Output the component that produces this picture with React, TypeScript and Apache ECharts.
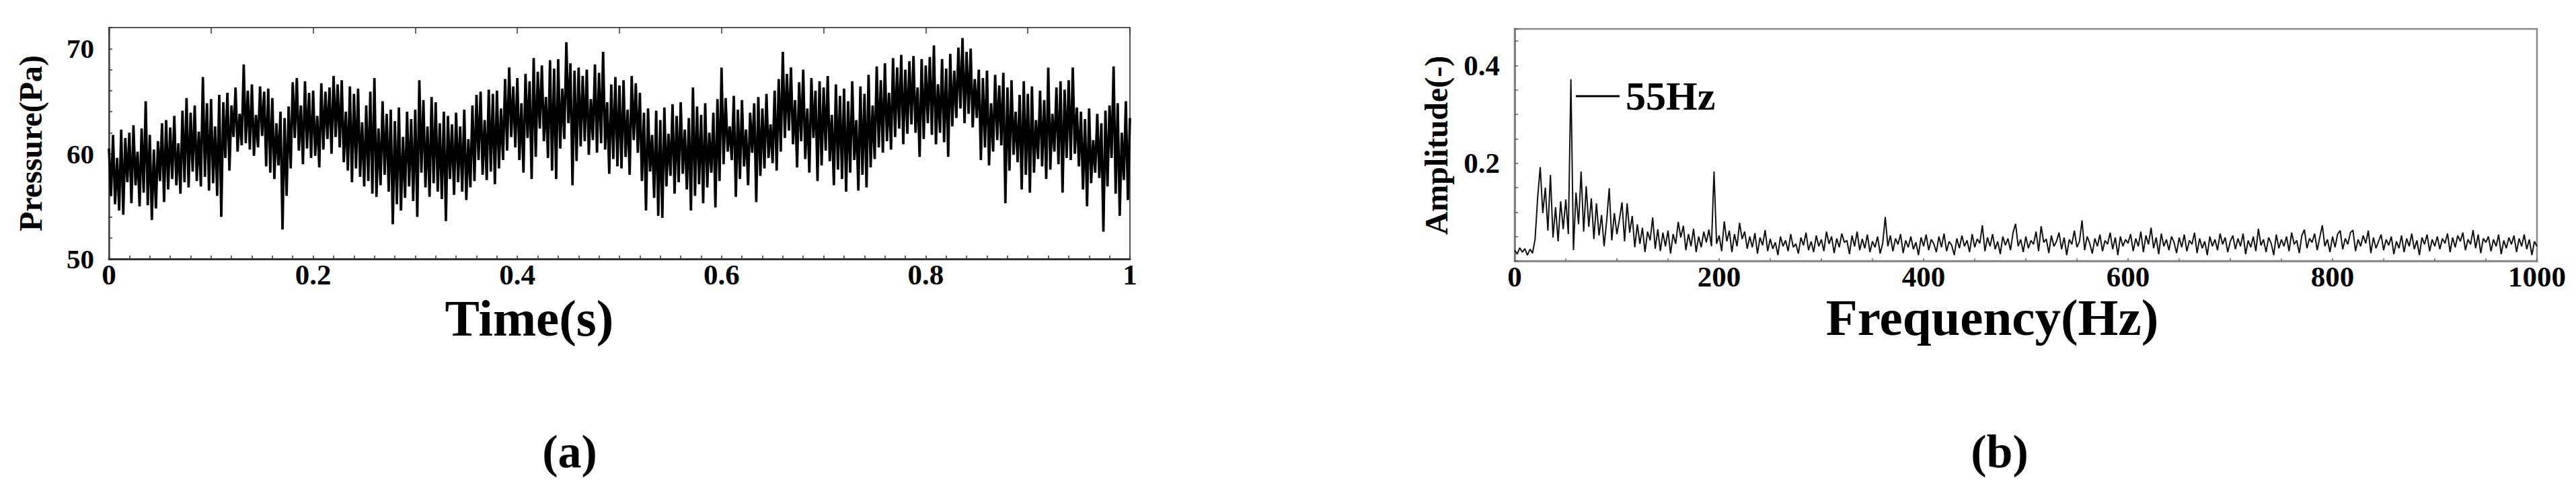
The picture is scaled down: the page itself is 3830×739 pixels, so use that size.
import React, { useEffect, useRef } from 'react';
import * as echarts from 'echarts';

// ---------- data ----------
// (a) pressure signal, sampled every TIME_STEP seconds from 0 to 1 s
const TIME_STEP = 0.002;
const pressurePa = [
  60.5, 56.0, 61.8, 55.2, 59.6, 54.6, 62.3, 54.2, 61.5, 57.3,
  62.0, 55.3, 62.7, 57.0, 60.2, 55.0, 62.4, 56.3, 65.0, 55.1,
  61.8, 53.7, 60.4, 54.8, 61.2, 57.4, 62.9, 55.4, 63.2, 56.6,
  62.5, 57.6, 63.6, 57.0, 61.0, 56.2, 64.1, 57.3, 65.3, 56.8,
  63.9, 58.3, 64.6, 57.4, 62.1, 56.9, 67.3, 57.8, 64.8, 56.5,
  65.2, 57.2, 62.6, 56.0, 65.6, 54.0, 64.9, 59.6, 65.8, 58.4,
  64.6, 61.6, 66.3, 60.2, 63.8, 60.8, 68.5, 61.0, 66.0, 60.4,
  66.6, 59.8, 63.7, 60.6, 66.4, 61.7, 65.9, 58.8, 66.2, 58.2,
  65.3, 57.6, 62.9, 58.9, 64.0, 52.8, 63.4, 56.0, 64.5, 58.6,
  66.8, 61.5, 67.2, 60.3, 64.6, 59.0, 66.9, 60.5, 65.8, 59.6,
  66.0, 59.8, 63.6, 58.7, 66.7, 60.4, 65.9, 61.4, 66.3, 60.0,
  67.4, 61.6, 66.6, 60.6, 67.0, 59.2, 64.0, 58.4, 66.4, 57.3,
  65.7, 58.6, 66.2, 57.8, 63.0, 56.9, 64.6, 57.4, 65.9, 56.2,
  67.2, 55.9, 62.4, 57.0, 65.0, 58.0, 63.8, 56.4, 64.2, 53.3,
  63.1, 55.2, 64.4, 54.6, 61.6, 55.8, 64.0, 56.9, 63.3, 55.5,
  64.2, 54.0, 67.0, 58.2, 65.1, 56.8, 62.6, 55.9, 65.4, 57.2,
  64.9, 56.4, 62.9, 55.7, 64.0, 53.6, 63.6, 57.6, 62.8, 56.1,
  63.9, 57.3, 62.6, 56.4, 64.2, 55.6, 61.4, 56.8, 64.6, 57.4,
  65.6, 59.4, 65.9, 58.0, 63.2, 57.5, 66.1, 58.3, 65.7, 57.1,
  66.0, 58.6, 64.3, 59.4, 67.1, 60.3, 68.2, 61.6, 66.4, 60.6,
  67.2, 59.4, 64.8, 58.2, 67.6, 61.5, 66.9, 57.6, 69.1, 59.7,
  67.8, 62.4, 68.4, 61.2, 65.4, 59.6, 68.9, 58.4, 68.1, 57.6,
  69.0, 60.5, 66.2, 61.4, 70.6, 62.9, 68.6, 57.0, 67.9, 59.3,
  68.2, 60.7, 67.4, 61.2, 68.0, 59.9, 65.2, 61.3, 68.5, 60.1,
  67.7, 61.0, 69.7, 60.4, 64.9, 58.1, 66.6, 59.5, 67.3, 58.8,
  66.5, 58.6, 67.0, 59.7, 64.2, 58.0, 67.4, 61.3, 66.7, 60.1,
  65.8, 57.4, 63.9, 54.6, 64.3, 58.3, 61.8, 55.8, 64.1, 54.1,
  63.2, 53.9, 64.4, 56.9, 61.9, 57.9, 64.7, 56.2, 63.6, 57.3,
  64.9, 58.1, 62.3, 56.6, 63.4, 54.6, 66.3, 56.0, 64.5, 57.1,
  63.7, 55.3, 64.8, 56.8, 62.0, 58.2, 63.9, 54.9, 65.2, 57.4,
  68.2, 59.0, 65.3, 60.2, 62.6, 59.4, 65.5, 55.9, 64.2, 57.6,
  65.1, 58.8, 62.3, 57.0, 63.9, 60.1, 64.8, 55.4, 65.4, 57.9,
  64.3, 58.6, 65.7, 59.6, 62.8, 59.1, 66.0, 58.4, 67.1, 60.2,
  69.7, 61.5, 67.6, 62.2, 68.2, 60.9, 65.1, 58.7, 66.8, 61.2,
  68.0, 59.5, 64.3, 58.2, 67.2, 61.5, 66.0, 57.4, 66.9, 58.9,
  66.3, 60.3, 67.4, 59.3, 63.7, 57.0, 66.6, 58.5, 65.5, 57.6,
  66.2, 56.4, 65.0, 58.2, 66.9, 59.4, 63.2, 56.5, 66.4, 58.0,
  65.7, 56.8, 67.5, 58.7, 64.6, 59.5, 68.3, 60.6, 67.0, 60.1,
  68.6, 61.2, 65.8, 60.4, 69.1, 61.6, 68.2, 62.4, 69.4, 60.9,
  68.0, 61.9, 68.8, 62.8, 69.3, 62.0, 66.3, 59.7, 69.0, 61.4,
  68.4, 62.9, 69.2, 61.8, 70.3, 60.9, 66.6, 62.0, 69.0, 61.1,
  68.1, 59.7, 69.5, 62.6, 67.9, 63.4, 70.1, 64.3, 71.0, 62.9,
  69.7, 63.8, 70.0, 62.5, 67.1, 63.4, 68.0, 59.4, 67.2, 60.6,
  67.9, 58.9, 64.8, 60.2, 67.5, 61.3, 66.5, 60.8, 67.7, 55.3,
  66.3, 58.4, 67.0, 59.9, 64.0, 59.2, 65.6, 56.6, 66.9, 58.0,
  65.7, 56.3, 66.4, 58.2, 63.2, 59.5, 66.0, 58.8, 65.1, 57.6,
  68.2, 58.5, 63.8, 60.2, 66.3, 59.0, 66.9, 56.3, 66.1, 59.6,
  67.0, 59.4, 68.2, 60.0, 64.4, 58.8, 64.0, 56.6, 63.3, 55.0,
  64.3, 57.2, 61.3, 58.2, 63.8, 57.7, 62.9, 52.6, 64.1, 56.9,
  64.6, 59.6, 68.3, 56.2, 64.8, 54.1, 62.0, 57.5, 65.0, 55.6,
  63.4,
];

// (b) amplitude spectrum, every FREQ_STEP Hz from 0 to 1000 Hz
const FREQ_STEP = 2.5;
const amplitude = [
  0.022, 0.014, 0.027, 0.018, 0.025, 0.012, 0.024, 0.016, 0.045, 0.130, 0.192, 0.098, 0.150, 0.062, 0.176, 0.048, 0.110, 0.040, 0.122, 0.065,
  0.126, 0.055, 0.372, 0.022, 0.140, 0.075, 0.183, 0.060, 0.153, 0.070, 0.128, 0.045, 0.118, 0.052, 0.094, 0.030, 0.082, 0.149, 0.042, 0.098,
  0.055, 0.085, 0.120, 0.040, 0.118, 0.058, 0.092, 0.028, 0.075, 0.035, 0.068, 0.018, 0.060, 0.042, 0.089, 0.025, 0.065, 0.020, 0.058, 0.030,
  0.062, 0.015, 0.055, 0.035, 0.080, 0.048, 0.072, 0.022, 0.055, 0.030, 0.066, 0.018, 0.050, 0.028, 0.060, 0.038, 0.064, 0.030, 0.183, 0.035,
  0.052, 0.020, 0.081, 0.040, 0.062, 0.018, 0.055, 0.030, 0.078, 0.045, 0.060, 0.025, 0.050, 0.028, 0.057, 0.015, 0.048, 0.032, 0.063, 0.020,
  0.045, 0.025, 0.038, 0.012, 0.050, 0.030, 0.042, 0.020, 0.055, 0.028, 0.035, 0.015, 0.048, 0.032, 0.058, 0.022, 0.040, 0.018, 0.052, 0.030,
  0.044, 0.020, 0.060, 0.035, 0.050, 0.016, 0.046, 0.028, 0.056, 0.038, 0.042, 0.014, 0.052, 0.030, 0.060, 0.022, 0.045, 0.026, 0.054, 0.018,
  0.040, 0.028, 0.050, 0.015, 0.036, 0.090, 0.030, 0.052, 0.020, 0.046, 0.034, 0.055, 0.016, 0.042, 0.028, 0.050, 0.024, 0.038, 0.012, 0.048,
  0.030, 0.054, 0.022, 0.044, 0.035, 0.018, 0.050, 0.028, 0.056, 0.020, 0.040, 0.032, 0.012, 0.046, 0.026, 0.052, 0.030, 0.042, 0.018, 0.055,
  0.028, 0.045, 0.036, 0.073, 0.020, 0.048, 0.030, 0.055, 0.024, 0.040, 0.014, 0.050, 0.032, 0.046, 0.022, 0.058, 0.076, 0.030, 0.044, 0.018,
  0.050, 0.026, 0.042, 0.034, 0.060, 0.020, 0.071, 0.038, 0.045, 0.016, 0.052, 0.030, 0.040, 0.058, 0.024, 0.048, 0.012, 0.044, 0.034, 0.062,
  0.028, 0.040, 0.083, 0.022, 0.050, 0.036, 0.015, 0.046, 0.030, 0.054, 0.020, 0.042, 0.034, 0.058, 0.024, 0.048, 0.012, 0.050, 0.030, 0.044,
  0.036, 0.055, 0.020, 0.046, 0.030, 0.060, 0.018, 0.052, 0.034, 0.068, 0.026, 0.048, 0.014, 0.056, 0.030, 0.044, 0.022, 0.050, 0.038, 0.016,
  0.048, 0.028, 0.054, 0.020, 0.042, 0.034, 0.058, 0.016, 0.046, 0.026, 0.040, 0.012, 0.050, 0.030, 0.044, 0.022, 0.056, 0.034, 0.048, 0.018,
  0.040, 0.052, 0.024, 0.046, 0.030, 0.056, 0.014, 0.042, 0.028, 0.050, 0.020, 0.066, 0.032, 0.044, 0.018, 0.048, 0.036, 0.012, 0.054, 0.026,
  0.044, 0.030, 0.050, 0.020, 0.058, 0.034, 0.042, 0.016, 0.052, 0.064, 0.026, 0.046, 0.038, 0.056, 0.022, 0.048, 0.073, 0.030, 0.044, 0.018,
  0.050, 0.028, 0.055, 0.062, 0.024, 0.046, 0.034, 0.058, 0.063, 0.020, 0.044, 0.030, 0.052, 0.036, 0.062, 0.016, 0.048, 0.026, 0.040, 0.054,
  0.022, 0.044, 0.032, 0.050, 0.014, 0.040, 0.026, 0.052, 0.018, 0.046, 0.030, 0.056, 0.024, 0.042, 0.012, 0.048, 0.034, 0.054, 0.020, 0.044,
  0.030, 0.050, 0.024, 0.046, 0.036, 0.056, 0.018, 0.048, 0.028, 0.052, 0.040, 0.058, 0.022, 0.044, 0.034, 0.063, 0.026, 0.054, 0.016, 0.046,
  0.038, 0.050, 0.020, 0.044, 0.030, 0.054, 0.014, 0.042, 0.026, 0.048, 0.034, 0.052, 0.018, 0.046, 0.030, 0.054, 0.024, 0.044, 0.012, 0.040,
  0.030,
];

// tick labels
const TIME_TICKS = [0, 0.2, 0.4, 0.6, 0.8, 1];
const TIME_LABELS = ['0', '0.2', '0.4', '0.6', '0.8', '1'];
const PRESSURE_TICKS = [50, 60, 70];
const PRESSURE_LABELS = ['50', '60', '70'];
const FREQ_TICKS = [0, 200, 400, 600, 800, 1000];
const FREQ_LABELS = ['0', '200', '400', '600', '800', '1000'];
const AMP_TICKS = [0.2, 0.4];
const AMP_LABELS = ['0.2', '0.4'];

const PEAK_LABEL = '55Hz';

const FONT = "'Liberation Serif', 'Times New Roman', serif";

function labelFor(ticks: number[], labels: string[]) {
  return (v: number) => {
    const i = ticks.findIndex((t) => Math.abs(t - v) < 1e-6);
    return i >= 0 ? labels[i] : '';
  };
}

export default function App() {
  const ref = useRef<HTMLDivElement>(null);

  useEffect(() => {
    document.body.style.margin = '0';
    if (!ref.current) return;
    const chart = echarts.init(ref.current, null, { renderer: 'svg' });

    const pressureData = pressurePa.map((v, i) => [i * TIME_STEP, v]);
    const spectrumData = amplitude.map((v, i) => [i * FREQ_STEP, v]);

    const tickLabel = {
      color: '#000',
      fontFamily: FONT,
      fontWeight: 'bold' as const,
      fontSize: 43,
    };

    const option: any = {
      animation: false,
      grid: [
        { left: 162, top: 41, width: 1518, height: 344, show: true, borderColor: '#555', borderWidth: 2, backgroundColor: 'transparent' },
        { left: 2252, top: 43, width: 1520, height: 345, show: true, borderColor: '#8a8a8a', borderWidth: 2.5, backgroundColor: 'transparent' },
      ],
      xAxis: [
        {
          type: 'value', gridIndex: 0, min: 0, max: 1, interval: 0.02,
          axisLine: { show: true, onZero: false, lineStyle: { color: '#333', width: 3 } },
          axisTick: { show: true, inside: true, length: 5, lineStyle: { color: '#333', width: 1.5 } },
          axisLabel: { ...tickLabel, margin: 2, formatter: labelFor(TIME_TICKS, TIME_LABELS) },
          splitLine: { show: false },
        },
        {
          type: 'value', gridIndex: 0, min: 0, max: 1, interval: 0.1,
          axisLine: { show: false },
          axisTick: { show: true, inside: true, length: 9, lineStyle: { color: '#333', width: 1.5 } },
          axisLabel: { show: false },
          splitLine: { show: false },
        },
        {
          type: 'value', gridIndex: 1, min: 0, max: 1000, interval: 50,
          axisLine: { show: true, onZero: false, lineStyle: { color: '#8a8a8a', width: 3 } },
          axisTick: { show: true, inside: true, length: 4, lineStyle: { color: '#666', width: 1.5 } },
          axisLabel: { ...tickLabel, margin: 2, formatter: labelFor(FREQ_TICKS, FREQ_LABELS) },
          splitLine: { show: false },
        },
      ],
      yAxis: [
        {
          type: 'value', gridIndex: 0, min: 50, max: 72, interval: 2,
          axisLine: { show: true, onZero: false, lineStyle: { color: '#444', width: 2.5 } },
          axisTick: { show: true, inside: true, length: 5, lineStyle: { color: '#333', width: 1.5 } },
          axisLabel: { ...tickLabel, fontSize: 41, margin: 22, formatter: labelFor(PRESSURE_TICKS, PRESSURE_LABELS) },
          splitLine: { show: false },
        },
        {
          type: 'value', gridIndex: 1, min: 0, max: 0.475, interval: 0.05,
          axisLine: { show: true, onZero: false, lineStyle: { color: '#777', width: 2.5 } },
          axisTick: { show: true, inside: true, length: 5, lineStyle: { color: '#555', width: 1.5 } },
          axisLabel: { ...tickLabel, margin: 22, formatter: labelFor(AMP_TICKS, AMP_LABELS) },
          splitLine: { show: false },
        },
      ],
      series: [
        {
          type: 'line', xAxisIndex: 0, yAxisIndex: 0, data: pressureData,
          showSymbol: false, symbol: 'none', silent: true,
          lineStyle: { color: '#000', width: 3.7, join: 'bevel' },
        },
        {
          type: 'line', xAxisIndex: 2, yAxisIndex: 1, data: spectrumData,
          showSymbol: false, symbol: 'none', silent: true,
          lineStyle: { color: '#111', width: 2 },
        },
      ],
      graphic: [
        { type: 'text', x: 45, y: 213, rotation: Math.PI / 2, silent: true,
          style: { text: 'Pressure(Pa)', font: `bold 48px ${FONT}`, fill: '#000', align: 'center', verticalAlign: 'middle' } },
        { type: 'text', x: 2135, y: 216, rotation: Math.PI / 2, silent: true,
          style: { text: 'Amplitude(-)', font: `bold 48px ${FONT}`, fill: '#000', align: 'center', verticalAlign: 'middle' } },
        { type: 'text', x: 787, y: 473, silent: true,
          style: { text: 'Time(s)', font: `bold 77px ${FONT}`, fill: '#000', align: 'center', verticalAlign: 'middle' } },
        { type: 'text', x: 2962, y: 472, silent: true,
          style: { text: 'Frequency(Hz)', font: `bold 77px ${FONT}`, fill: '#000', align: 'center', verticalAlign: 'middle' } },
        { type: 'text', x: 847, y: 671, silent: true,
          style: { text: '(a)', font: `bold 70px ${FONT}`, fill: '#000', align: 'center', verticalAlign: 'middle' } },
        { type: 'text', x: 2973, y: 671, silent: true,
          style: { text: '(b)', font: `bold 70px ${FONT}`, fill: '#000', align: 'center', verticalAlign: 'middle' } },
        { type: 'line', silent: true, shape: { x1: 2343, y1: 143, x2: 2408, y2: 143 },
          style: { stroke: '#000', lineWidth: 3 } },
        { type: 'text', x: 2417, y: 143, silent: true,
          style: { text: PEAK_LABEL, font: `bold 60px ${FONT}`, fill: '#000', align: 'left', verticalAlign: 'middle' } },
      ],
    };

    chart.setOption(option);
    return () => chart.dispose();
  }, []);

  return <div ref={ref} style={{ width: 3830, height: 739 }} />;
}
